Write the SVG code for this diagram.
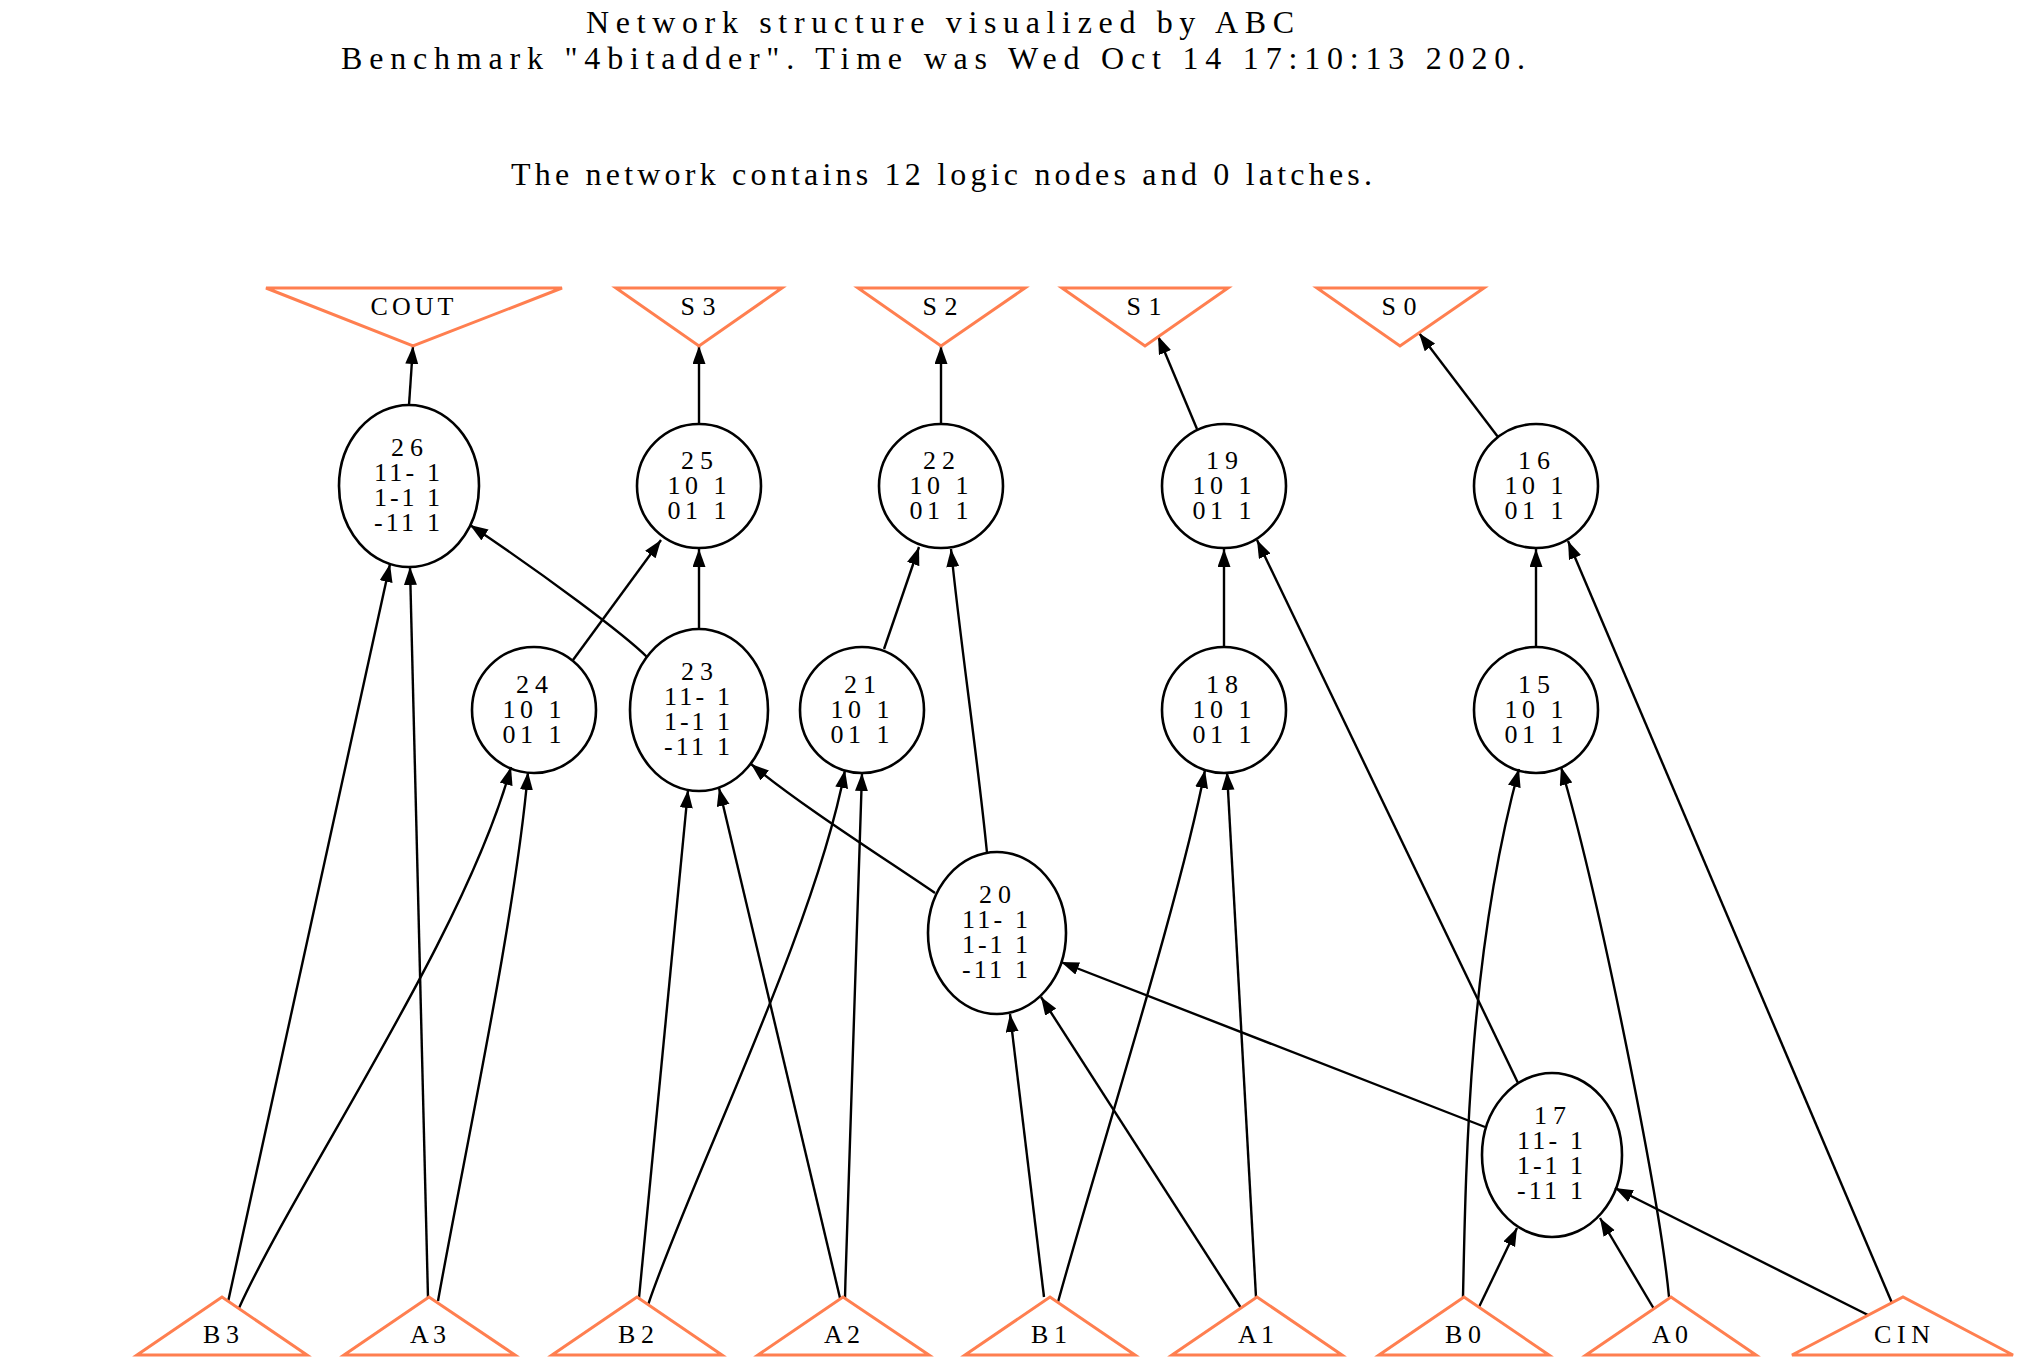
<svg xmlns="http://www.w3.org/2000/svg" width="2023" height="1371" viewBox="0 0 2023 1371">
  <defs>
    <style>
      .txt { font-family: "Liberation Serif", "Times New Roman", serif; fill: #000; }
      .title { font-size: 32px; }
      .lbl { font-size: 26px; text-anchor: middle; }
      .node ellipse { fill: none; stroke: #000; stroke-width: 2.6; }
      .io polygon { fill: none; stroke: #ff7f50; stroke-width: 3; stroke-linejoin: miter; }
      #edges path { fill: none; stroke: #000; stroke-width: 2.4; marker-end: url(#ah); }
    </style>
    <marker id="ah" markerUnits="userSpaceOnUse" markerWidth="19" markerHeight="14" refX="18" refY="6.5" orient="auto">
      <path d="M0,0 L18,6.5 L0,13 z" fill="#000"/>
    </marker>
  </defs>

  <rect x="0" y="0" width="2023" height="1371" fill="#fff"/>

  <!-- header -->
  <g id="header" class="txt title">
    <text x="586" y="33" textLength="708" lengthAdjust="spacing">Network structure visualized by ABC</text>
    <text x="341" y="69" textLength="1184" lengthAdjust="spacing">Benchmark "4bitadder". Time was Wed Oct 14 17:10:13 2020.</text>
    <text x="511" y="185" textLength="861" lengthAdjust="spacing">The network contains 12 logic nodes and 0 latches.</text>
  </g>

  <!-- connectors -->
  <g id="edges">
    <path d="M409,405 L413,346"/>
    <path d="M699,424 L699,346"/>
    <path d="M941,424 L941,346"/>
    <path d="M1197,429 L1158,336"/>
    <path d="M1498,437 L1419,333"/>
    <path d="M573,660 L661,540"/>
    <path d="M699,629 L699,549"/>
    <path d="M647,657 C625,635 545,575 470,525"/>
    <path d="M884,649 L919,547"/>
    <path d="M987,853 C978,760 960,640 951,549"/>
    <path d="M1224,648 L1224,549"/>
    <path d="M1518,1083 L1257,540"/>
    <path d="M1536,648 L1536,549"/>
    <path d="M1892,1303 L1568,541"/>
    <path d="M228,1302 L390,564"/>
    <path d="M428,1298 L410,567"/>
    <path d="M239,1308 C300,1175 465,935 511,767"/>
    <path d="M438,1301 C465,1150 515,920 528,772"/>
    <path d="M639,1298 L688,790"/>
    <path d="M840,1298 L719,788"/>
    <path d="M648,1305 C690,1180 815,930 845,770"/>
    <path d="M845,1298 C850,1100 858,900 862,773"/>
    <path d="M935,893 C890,862 800,805 751,764"/>
    <path d="M1044,1297 L1010,1014"/>
    <path d="M1241,1308 L1041,997"/>
    <path d="M1485,1127 L1061,962"/>
    <path d="M1058,1302 C1100,1150 1180,900 1205,770"/>
    <path d="M1256,1297 L1227,772"/>
    <path d="M1463,1297 C1466,1150 1470,950 1519,769"/>
    <path d="M1669,1297 C1660,1200 1600,900 1561,767"/>
    <path d="M1479,1307 L1517,1228"/>
    <path d="M1654,1309 L1600,1218"/>
    <path d="M1868,1315 L1615,1188"/>
  </g>

  <!-- primary outputs -->
  <g id="COUT" class="io"><polygon points="266,288 562,288 413,346"/><text class="txt lbl" x="412" y="315" textLength="83" lengthAdjust="spacing">COUT</text></g>
  <g id="S3" class="io"><polygon points="616,288 782,288 699,346"/><text class="txt lbl" x="698" y="315" textLength="35" lengthAdjust="spacing">S3</text></g>
  <g id="S2" class="io"><polygon points="858,288 1025,288 941,346"/><text class="txt lbl" x="940" y="315" textLength="35" lengthAdjust="spacing">S2</text></g>
  <g id="S1" class="io"><polygon points="1062,288 1228,288 1145,346"/><text class="txt lbl" x="1144" y="315" textLength="35" lengthAdjust="spacing">S1</text></g>
  <g id="S0" class="io"><polygon points="1317,288 1484,288 1400,346"/><text class="txt lbl" x="1399" y="315" textLength="35" lengthAdjust="spacing">S0</text></g>

  <!-- logic nodes, top row -->
  <g id="n26" class="node"><ellipse cx="409" cy="486" rx="70" ry="81"/>
    <text class="txt lbl" x="407" y="456" textLength="32" lengthAdjust="spacing">26</text>
    <text class="txt lbl" x="407" y="481" textLength="66" lengthAdjust="spacing">11- 1</text>
    <text class="txt lbl" x="407" y="506" textLength="66" lengthAdjust="spacing">1-1 1</text>
    <text class="txt lbl" x="407" y="531" textLength="66" lengthAdjust="spacing">-11 1</text></g>
  <g id="n25" class="node"><ellipse cx="699" cy="486" rx="62" ry="62"/>
    <text class="txt lbl" x="697" y="469" textLength="32" lengthAdjust="spacing">25</text>
    <text class="txt lbl" x="697" y="494" textLength="59" lengthAdjust="spacing">10 1</text>
    <text class="txt lbl" x="697" y="519" textLength="59" lengthAdjust="spacing">01 1</text></g>
  <g id="n22" class="node"><ellipse cx="941" cy="486" rx="62" ry="62"/>
    <text class="txt lbl" x="939" y="469" textLength="32" lengthAdjust="spacing">22</text>
    <text class="txt lbl" x="939" y="494" textLength="59" lengthAdjust="spacing">10 1</text>
    <text class="txt lbl" x="939" y="519" textLength="59" lengthAdjust="spacing">01 1</text></g>
  <g id="n19" class="node"><ellipse cx="1224" cy="486" rx="62" ry="62"/>
    <text class="txt lbl" x="1222" y="469" textLength="32" lengthAdjust="spacing">19</text>
    <text class="txt lbl" x="1222" y="494" textLength="59" lengthAdjust="spacing">10 1</text>
    <text class="txt lbl" x="1222" y="519" textLength="59" lengthAdjust="spacing">01 1</text></g>
  <g id="n16" class="node"><ellipse cx="1536" cy="486" rx="62" ry="62"/>
    <text class="txt lbl" x="1534" y="469" textLength="32" lengthAdjust="spacing">16</text>
    <text class="txt lbl" x="1534" y="494" textLength="59" lengthAdjust="spacing">10 1</text>
    <text class="txt lbl" x="1534" y="519" textLength="59" lengthAdjust="spacing">01 1</text></g>

  <!-- logic nodes, middle row -->
  <g id="n24" class="node"><ellipse cx="534" cy="710" rx="62" ry="63"/>
    <text class="txt lbl" x="532" y="693" textLength="32" lengthAdjust="spacing">24</text>
    <text class="txt lbl" x="532" y="718" textLength="59" lengthAdjust="spacing">10 1</text>
    <text class="txt lbl" x="532" y="743" textLength="59" lengthAdjust="spacing">01 1</text></g>
  <g id="n23" class="node"><ellipse cx="699" cy="710" rx="69" ry="81"/>
    <text class="txt lbl" x="697" y="680" textLength="32" lengthAdjust="spacing">23</text>
    <text class="txt lbl" x="697" y="705" textLength="66" lengthAdjust="spacing">11- 1</text>
    <text class="txt lbl" x="697" y="730" textLength="66" lengthAdjust="spacing">1-1 1</text>
    <text class="txt lbl" x="697" y="755" textLength="66" lengthAdjust="spacing">-11 1</text></g>
  <g id="n21" class="node"><ellipse cx="862" cy="710" rx="62" ry="63"/>
    <text class="txt lbl" x="860" y="693" textLength="32" lengthAdjust="spacing">21</text>
    <text class="txt lbl" x="860" y="718" textLength="59" lengthAdjust="spacing">10 1</text>
    <text class="txt lbl" x="860" y="743" textLength="59" lengthAdjust="spacing">01 1</text></g>
  <g id="n18" class="node"><ellipse cx="1224" cy="710" rx="62" ry="63"/>
    <text class="txt lbl" x="1222" y="693" textLength="32" lengthAdjust="spacing">18</text>
    <text class="txt lbl" x="1222" y="718" textLength="59" lengthAdjust="spacing">10 1</text>
    <text class="txt lbl" x="1222" y="743" textLength="59" lengthAdjust="spacing">01 1</text></g>
  <g id="n15" class="node"><ellipse cx="1536" cy="710" rx="62" ry="63"/>
    <text class="txt lbl" x="1534" y="693" textLength="32" lengthAdjust="spacing">15</text>
    <text class="txt lbl" x="1534" y="718" textLength="59" lengthAdjust="spacing">10 1</text>
    <text class="txt lbl" x="1534" y="743" textLength="59" lengthAdjust="spacing">01 1</text></g>

  <!-- carry chain nodes -->
  <g id="n20" class="node"><ellipse cx="997" cy="933" rx="69" ry="81"/>
    <text class="txt lbl" x="995" y="903" textLength="32" lengthAdjust="spacing">20</text>
    <text class="txt lbl" x="995" y="928" textLength="66" lengthAdjust="spacing">11- 1</text>
    <text class="txt lbl" x="995" y="953" textLength="66" lengthAdjust="spacing">1-1 1</text>
    <text class="txt lbl" x="995" y="978" textLength="66" lengthAdjust="spacing">-11 1</text></g>
  <g id="n17" class="node"><ellipse cx="1552" cy="1155" rx="70" ry="82"/>
    <text class="txt lbl" x="1550" y="1124" textLength="32" lengthAdjust="spacing">17</text>
    <text class="txt lbl" x="1550" y="1149" textLength="66" lengthAdjust="spacing">11- 1</text>
    <text class="txt lbl" x="1550" y="1174" textLength="66" lengthAdjust="spacing">1-1 1</text>
    <text class="txt lbl" x="1550" y="1199" textLength="66" lengthAdjust="spacing">-11 1</text></g>

  <!-- primary inputs -->
  <g id="B3" class="io"><polygon points="137,1355 222,1297 307,1355"/><text class="txt lbl" x="221" y="1343" textLength="36" lengthAdjust="spacing">B3</text></g>
  <g id="A3" class="io"><polygon points="344,1355 429,1297 515,1355"/><text class="txt lbl" x="428" y="1343" textLength="36" lengthAdjust="spacing">A3</text></g>
  <g id="B2" class="io"><polygon points="552,1355 637,1297 722,1355"/><text class="txt lbl" x="636" y="1343" textLength="36" lengthAdjust="spacing">B2</text></g>
  <g id="A2" class="io"><polygon points="758,1355 843,1297 929,1355"/><text class="txt lbl" x="842" y="1343" textLength="36" lengthAdjust="spacing">A2</text></g>
  <g id="B1" class="io"><polygon points="965,1355 1050,1297 1135,1355"/><text class="txt lbl" x="1049" y="1343" textLength="36" lengthAdjust="spacing">B1</text></g>
  <g id="A1" class="io"><polygon points="1172,1355 1257,1297 1342,1355"/><text class="txt lbl" x="1256" y="1343" textLength="36" lengthAdjust="spacing">A1</text></g>
  <g id="B0" class="io"><polygon points="1379,1355 1464,1297 1549,1355"/><text class="txt lbl" x="1463" y="1343" textLength="36" lengthAdjust="spacing">B0</text></g>
  <g id="A0" class="io"><polygon points="1586,1355 1671,1297 1756,1355"/><text class="txt lbl" x="1670" y="1343" textLength="36" lengthAdjust="spacing">A0</text></g>
  <g id="CIN" class="io"><polygon points="1792,1355 1903,1297 2013,1355"/><text class="txt lbl" x="1902" y="1343" textLength="56" lengthAdjust="spacing">CIN</text></g>
</svg>
